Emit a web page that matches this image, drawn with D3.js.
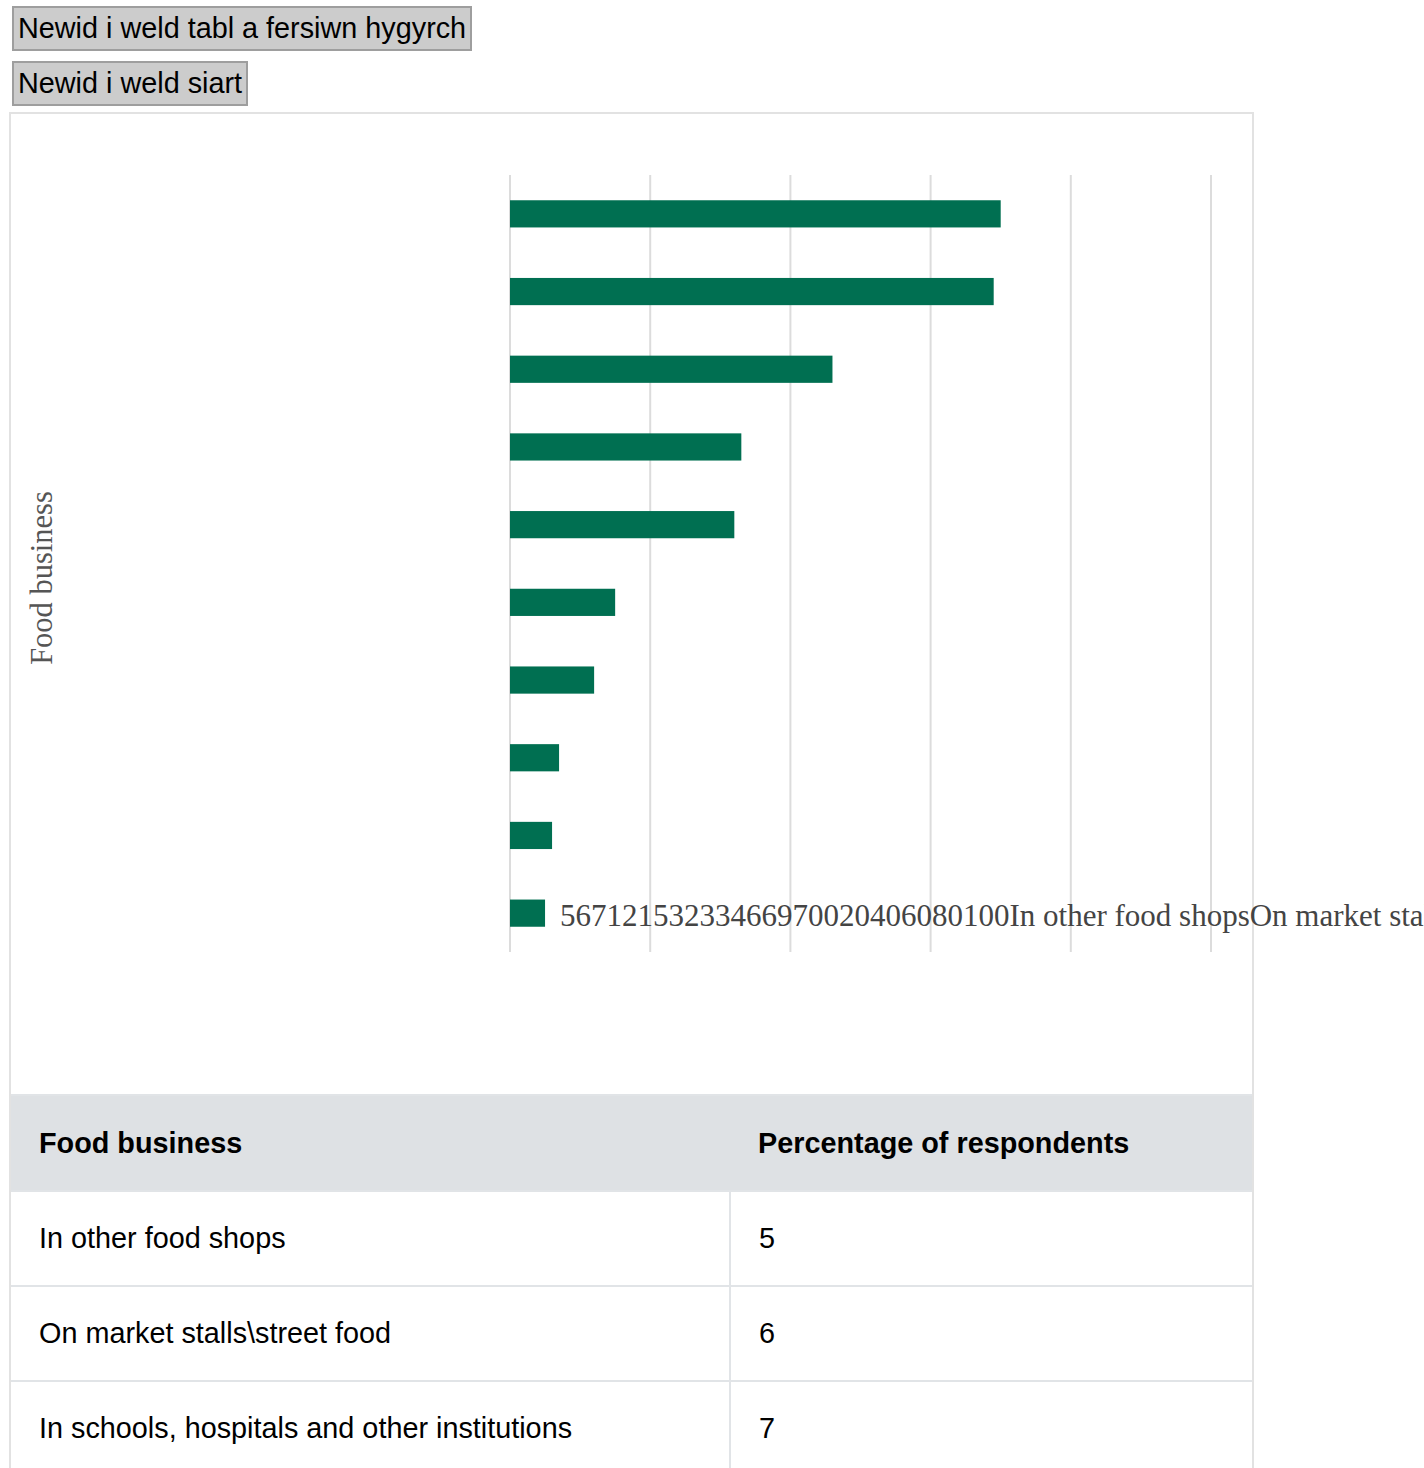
<!DOCTYPE html>
<html lang="cy">
<head>
    <meta charset="UTF-8">
    <title>Food business</title>
    <script src="https://d3js.org/d3.v7.min.js"></script>
    <style>
        html, body {
            margin: 0;
            padding: 0;
            background: #fff;
            overflow: hidden;
        }
        body {
            font-family: "Liberation Sans", Arial, sans-serif;
            position: relative;
            width: 1424px;
            height: 1468px;
        }
        .toggle {
            position: absolute;
            left: 12px;
            height: 45px;
            padding: 0 4px;
            font-family: "Liberation Sans", Arial, sans-serif;
            font-size: 28.8px;
            color: #000;
            background: #cccccc;
            border: 2px solid #9e9e9e;
            white-space: nowrap;
            box-sizing: border-box;
        }
        #chart-box {
            position: absolute;
            left: 9px;
            top: 112px;
            width: 1245px;
            border: 2px solid #e2e2e2;
            border-bottom: none;
            box-sizing: border-box;
        }
        #chart svg {
            display: block;
            overflow: visible;
        }
        table {
            border-collapse: collapse;
            width: 100%;
            font-size: 28.8px;
        }
        th, td {
            text-align: left;
            padding: 0 28px;
            border: 2px solid #e1e4e7;
        }
        th {
            background: #dee1e4;
            height: 94px;
            font-weight: bold;
            border-left: none;
            border-right: none;
        }
        td {
            height: 93px;
        }
        tr td:first-child { border-left: none; width: 662px; }
        tr td:last-child { border-right: none; }
    </style>
</head>
<body>
    <button class="toggle" style="top:6px">Newid i weld tabl a fersiwn hygyrch</button>
    <button class="toggle" style="top:61px">Newid i weld siart</button>

    <div id="chart-box">
        <div id="chart"></div>
        <table id="data-table"></table>
    </div>

    <script>
        // data, smallest first (same order as the table)
        const categories = [
            "In other food shops",
            "On market stalls\\street food",
            "In schools, hospitals and other institutions",
            "In hotels or B&Bs",
            "In sandwich shops",
            "In pubs",
            "In supermarkets",
            "In cafés",
            "In takeaways",
            "In restaurants"
        ];
        const values = [5, 6, 7, 12, 15, 32, 33, 46, 69, 70];
        const tickValues = [0, 20, 40, 60, 80, 100];
        const axisTitle = "Food business";
        const tableHeaders = ["Food business", "Percentage of respondents"];

        const width = 1241;
        const height = 980;

        const svg = d3.select("#chart")
            .append("svg")
            .attr("width", width)
            .attr("height", height);

        const x = d3.scaleLinear()
            .domain([0, 100])
            .range([499, 1200]);

        // biggest bar on top
        const y = d3.scaleBand()
            .domain(categories.slice().reverse())
            .range([61, 838])
            .paddingInner(0.65)
            .paddingOuter(0.325);

        // gridlines
        svg.selectAll("line.grid")
            .data(tickValues)
            .enter()
            .append("line")
            .attr("class", "grid")
            .attr("x1", d => x(d))
            .attr("x2", d => x(d))
            .attr("y1", 61)
            .attr("y2", 838)
            .attr("stroke", "#dcdcdc")
            .attr("stroke-width", 2);

        // bars
        svg.selectAll("rect.bar")
            .data(categories.map((c, i) => ({ name: c, value: values[i] })))
            .enter()
            .append("rect")
            .attr("class", "bar")
            .attr("x", x(0))
            .attr("y", d => y(d.name))
            .attr("width", d => x(d.value) - x(0))
            .attr("height", y.bandwidth())
            .attr("fill", "#006f51");

        // y axis title
        svg.append("text")
            .attr("transform", "translate(41, 464) rotate(-90)")
            .attr("text-anchor", "middle")
            .attr("font-family", "'Liberation Serif', 'Times New Roman', serif")
            .attr("font-size", 30.5)
            .attr("fill", "#555")
            .text(axisTitle);

        // all the labels run together on one line
        const labelText = svg.append("text")
            .attr("x", 549)
            .attr("y", 812)
            .attr("font-family", "'Liberation Serif', 'Times New Roman', serif")
            .attr("font-size", 31)
            .attr("fill", "#444");

        labelText.selectAll("tspan")
            .data(values.map(String).concat(tickValues.map(String), categories))
            .enter()
            .append("tspan")
            .text(d => d);

        // table
        const table = d3.select("#data-table");
        table.append("thead").append("tr")
            .selectAll("th")
            .data(tableHeaders)
            .enter()
            .append("th")
            .text(d => d);

        const rows = table.append("tbody")
            .selectAll("tr")
            .data(categories.map((c, i) => [c, values[i]]))
            .enter()
            .append("tr");

        rows.selectAll("td")
            .data(d => d)
            .enter()
            .append("td")
            .text(d => d);
    </script>
</body>
</html>
